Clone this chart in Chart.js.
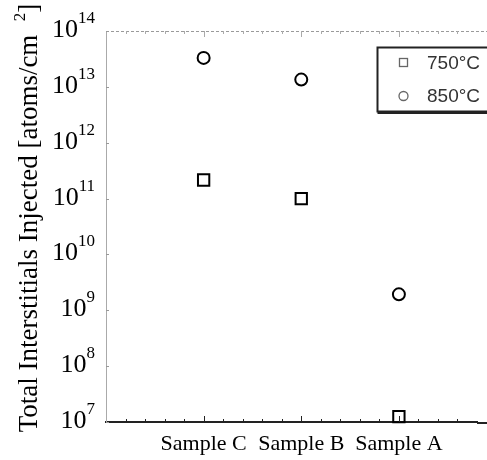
<!DOCTYPE html>
<html>
<head>
<meta charset="utf-8">
<script src="https://cdn.jsdelivr.net/npm/chart.js@4.4.1/dist/chart.umd.min.js"></script>
<style>
  html, body { margin: 0; padding: 0; background: #fff; }
  #wrap { width: 487px; height: 460px; }
</style>
</head>
<body>
<div id="wrap"><canvas id="chart" width="487" height="460"></canvas></div>
<script>
// --- data ---
const categories   = ["Sample C", "Sample B", "Sample A"];
const catPositions = [1, 2, 3];
const values750    = [2.15e11, 1.0e11, 1.25e7];
const values850    = [3.3e13, 1.35e13, 1.93e9];
const seriesLabels = ["750°C", "850°C"];
const yExponents   = [7, 8, 9, 10, 11, 12, 13, 14];
const yTitle       = "Total Interstitials Injected [atoms/cm";

const SERIF = "'Liberation Serif', 'Times New Roman', serif";
const SANS  = "'Liberation Sans', Arial, sans-serif";

function toPoints(vals) {
  return catPositions.map((x, i) => ({ x: x, y: vals[i] }));
}

// --- draws the parts Chart.js can't: superscript ticks, inward ticks, boxed legend ---
const decorations = {
  id: "decorations",
  afterDraw(chart) {
    const ctx = chart.ctx;
    const area = chart.chartArea;
    const xs = chart.scales.x;
    const ys = chart.scales.y;
    ctx.save();

    // top frame line, faint and dotted
    ctx.strokeStyle = "#9a9a9a";
    ctx.lineWidth = 1;
    ctx.setLineDash([3, 2]);
    ctx.beginPath();
    ctx.moveTo(area.left, area.top + 0.5);
    ctx.lineTo(chart.width, area.top + 0.5);
    ctx.stroke();
    ctx.setLineDash([]);

    // the bottom axis runs on to the edge of the page
    ctx.strokeStyle = "#222";
    ctx.lineWidth = 2;
    ctx.beginPath();
    ctx.moveTo(area.right, area.bottom + 1);
    ctx.lineTo(chart.width, area.bottom + 1);
    ctx.stroke();
    ctx.lineWidth = 1;

    // x ticks, pointing into the plot (bottom and top)
    xs.ticks.forEach(t => {
      if (t.value <= 0 || t.value >= xs.max) return;
      const px = Math.round(xs.getPixelForValue(t.value)) + 0.5;
      const major = Math.abs(t.value - Math.round(t.value)) < 1e-6;
      const len = major ? 6 : 3;
      ctx.strokeStyle = "#222";
      ctx.beginPath();
      ctx.moveTo(px, area.bottom);
      ctx.lineTo(px, area.bottom - len);
      ctx.stroke();
      ctx.strokeStyle = "#aaa";
      ctx.beginPath();
      ctx.moveTo(px, area.top);
      ctx.lineTo(px, area.top + len);
      ctx.stroke();
    });

    // y ticks and 10^n labels
    yExponents.forEach(e => {
      const py = Math.round(ys.getPixelForValue(Math.pow(10, e))) + 0.5;
      ctx.strokeStyle = "#999";
      ctx.beginPath();
      ctx.moveTo(area.left, py);
      ctx.lineTo(area.left + 3, py);
      ctx.stroke();

      ctx.fillStyle = "#000";
      ctx.textBaseline = "alphabetic";
      ctx.textAlign = "right";
      ctx.font = "17px " + SERIF;
      const expText = String(e);
      const expW = ctx.measureText(expText).width;
      ctx.fillText(expText, 95, py - 9);
      ctx.font = "26px " + SERIF;
      ctx.fillText("10", 95 - expW, py + 5);
    });

    // rotated y-axis title with superscript 2
    ctx.save();
    ctx.translate(37, 218);
    ctx.rotate(-Math.PI / 2);
    ctx.textAlign = "left";
    ctx.textBaseline = "alphabetic";
    ctx.fillStyle = "#000";
    ctx.font = "27px " + SERIF;
    const mainW = ctx.measureText(yTitle + "  ").width;
    const closeW = ctx.measureText("]").width;
    ctx.font = "17px " + SERIF;
    const supW = ctx.measureText("2").width;
    const total = mainW + supW + closeW;
    let x0 = -total / 2;
    ctx.font = "27px " + SERIF;
    ctx.fillText(yTitle, x0, 0);
    ctx.font = "17px " + SERIF;
    ctx.fillText("2", x0 + mainW, -12);
    ctx.font = "27px " + SERIF;
    ctx.fillText("]", x0 + mainW + supW, 0);
    ctx.restore();

    // legend box
    const bx = 377.5, by = 47.5, bw = 115, bh = 64;
    ctx.fillStyle = "#fff";
    ctx.fillRect(bx, by, bw, bh);
    ctx.strokeStyle = "#222";
    ctx.lineWidth = 2;
    ctx.strokeRect(bx, by, bw, bh);
    ctx.beginPath();
    ctx.moveTo(bx, by + bh + 1.5);
    ctx.lineTo(bx + bw, by + bh + 1.5);
    ctx.stroke();

    ctx.font = "19px " + SANS;
    ctx.textAlign = "left";
    ctx.textBaseline = "middle";
    chart.data.datasets.forEach((ds, i) => {
      const ly = i === 0 ? 63 : 96;
      ctx.strokeStyle = "#666";
      ctx.lineWidth = 1.3;
      if (ds.pointStyle === "rect") {
        ctx.strokeRect(399.5, ly - 4.5, 8, 8);
      } else {
        ctx.beginPath();
        ctx.arc(403.5, ly, 4.5, 0, Math.PI * 2);
        ctx.stroke();
      }
      ctx.fillStyle = "#333";
      ctx.fillText(ds.label, 427, ly + 1);
    });

    ctx.restore();
  }
};

const ctx = document.getElementById("chart").getContext("2d");
new Chart(ctx, {
  type: "scatter",
  data: {
    datasets: [
      {
        label: seriesLabels[0],
        data: toPoints(values750),
        pointStyle: "rect",
        pointRadius: 8,
        borderColor: "#000",
        backgroundColor: "rgba(0,0,0,0)",
        borderWidth: 2,
        clip: false
      },
      {
        label: seriesLabels[1],
        data: toPoints(values850),
        pointStyle: "circle",
        pointRadius: 6,
        borderColor: "#000",
        backgroundColor: "rgba(0,0,0,0)",
        borderWidth: 2,
        clip: false
      }
    ]
  },
  options: {
    responsive: false,
    animation: false,
    events: [],
    layout: { padding: { top: 31, right: 0, left: 0, bottom: 0 } },
    plugins: {
      legend: { display: false },
      tooltip: { enabled: false }
    },
    scales: {
      x: {
        type: "linear",
        bounds: "data",
        min: 0,
        max: 3.8,
        grid: { display: false, drawTicks: false },
        border: { display: true, color: "#222", width: 2 },
        ticks: {
          stepSize: 0.2,
          autoSkip: false,
          maxRotation: 0,
          padding: 9,
          color: "#000",
          font: { family: SERIF, size: 22 },
          callback: v => {
            const i = catPositions.findIndex(p => Math.abs(p - v) < 1e-6);
            return i >= 0 ? categories[i] : "";
          }
        },
        afterFit: s => { s.height = 38; }
      },
      y: {
        type: "logarithmic",
        min: 1e7,
        max: 1e14,
        grid: { display: false, drawTicks: false },
        border: { display: true, color: "#aaa", width: 1 },
        ticks: { display: false },
        afterFit: s => { s.width = 106; }
      }
    }
  },
  plugins: [decorations]
});
</script>
</body>
</html>
